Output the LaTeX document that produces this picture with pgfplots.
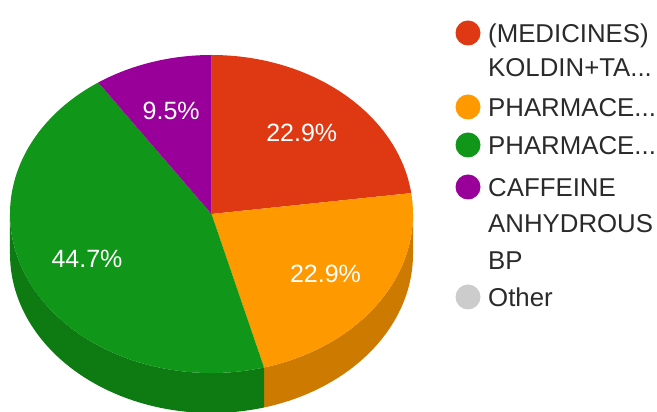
\documentclass[border=0pt]{standalone}
\usepackage{fontspec}
\setmainfont{Liberation Sans}
\usepackage{pgfplots}
\usepackage{pgfplotstable}
\pgfplotsset{compat=1.18}
\definecolor{cRed}{HTML}{DE3913}
\definecolor{cOrange}{HTML}{FF9900}
\definecolor{cGreen}{HTML}{109618}
\definecolor{cPurple}{HTML}{990099}
\definecolor{cGray}{HTML}{CCCCCC}
\definecolor{sOrange}{HTML}{CC7A00}
\definecolor{sGreen}{HTML}{0D7A12}
\definecolor{legtext}{HTML}{2A2A2A}

\pgfplotstableread{
label value
Medicines 22.9
PharmaA 22.9
PharmaB 44.7
Caffeine 9.5
}\piedata

\def\cx{211.5}
\def\cy{198}
\def\rx{201.5}
\def\ry{159}
\def\depth{40}

% top face of a slice: #1 start angle (clockwise from top), #2 end angle, #3 colour
\newcommand\slice[3]{%
  \fill[#3] (axis cs:\cx,\cy) -- (axis cs:{\cx+\rx*sin(#1)},{\cy+\ry*cos(#1)})
    arc[start angle={90-#1}, end angle={90-#2}, x radius=\rx pt, y radius=\ry pt] -- cycle;}
% side wall of a slice between #1 and #2
\newcommand\wall[3]{%
  \fill[#3] (axis cs:{\cx+\rx*sin(#1)},{\cy+\ry*cos(#1)})
    arc[start angle={90-#1}, end angle={90-#2}, x radius=\rx pt, y radius=\ry pt]
    -- ++(0pt,-\depth pt)
    arc[start angle={90-#2}, end angle={90-#1}, x radius=\rx pt, y radius=\ry pt] -- cycle;}
\newcommand\plabel[3]{%
  \node[text=#3, font=\fontsize{25}{30}\selectfont, inner sep=0pt]
    at (axis cs:{\cx+0.68*\rx*sin(#1)},{\cy+0.68*\ry*cos(#1)}) {#2};}
\newcommand\legline[2]{%
  \node[anchor=base west, inner sep=0pt, text=legtext, font=\fontsize{25.8}{31}\selectfont]
    at (axis cs:488,#1) {#2};}
\newcommand\legdot[2]{%
  \fill[#2] (axis cs:468,#1) circle[radius=12.5pt];}

\begin{document}
\begin{tikzpicture}
\pgfplotstablegetelem{0}{value}\of\piedata \let\va\pgfplotsretval
\pgfplotstablegetelem{1}{value}\of\piedata \let\vb\pgfplotsretval
\pgfplotstablegetelem{2}{value}\of\piedata \let\vc\pgfplotsretval
\pgfplotstablegetelem{3}{value}\of\piedata \let\vd\pgfplotsretval
\pgfmathsetmacro\tot{\va+\vb+\vc+\vd}
\pgfmathsetmacro\aB{\va/\tot*360}
\pgfmathsetmacro\aC{(\va+\vb)/\tot*360}
\pgfmathsetmacro\aD{(\va+\vb+\vc)/\tot*360}
\pgfmathsetmacro\mA{\aB/2}
\pgfmathsetmacro\mB{(\aB+\aC)/2}
\pgfmathsetmacro\mC{(\aC+\aD)/2}
\pgfmathsetmacro\mD{(\aD+360)/2}
\begin{axis}[
  x=1pt, y=1pt,
  xmin=0, xmax=657, ymin=0, ymax=412,
  enlargelimits=false,
  hide axis,
  at={(0pt,0pt)}, anchor=south west,
]
\wall{90}{\aC}{sOrange}
\wall{\aC}{270}{sGreen}
\slice{0}{\aB}{cRed}
\slice{\aB}{\aC}{cOrange}
\slice{\aC}{\aD}{cGreen}
\slice{\aD}{360}{cPurple}
\plabel{\mA}{22.9\%}{white}
\plabel{\mB}{22.9\%}{white}
\plabel{\mC}{44.7\%}{white}
\plabel{\mD}{9.5\%}{white}
% legend
\legdot{379}{cRed}
\legdot{305}{cOrange}
\legdot{267}{cGreen}
\legdot{225}{cPurple}
\legdot{115}{cGray}
\legline{369.7}{(MEDICINES)}
\legline{335.7}{KOLDIN+TA...}
\legline{295.7}{PHARMACE...}
\legline{257.7}{PHARMACE...}
\legline{215.7}{CAFFEINE}
\legline{179.7}{ANHYDROUS}
\legline{142.7}{BP}
\legline{105.7}{Other}
\end{axis}
\pgfresetboundingbox
\path (0pt,0pt) rectangle (657pt,412pt);
\end{tikzpicture}
\end{document}
